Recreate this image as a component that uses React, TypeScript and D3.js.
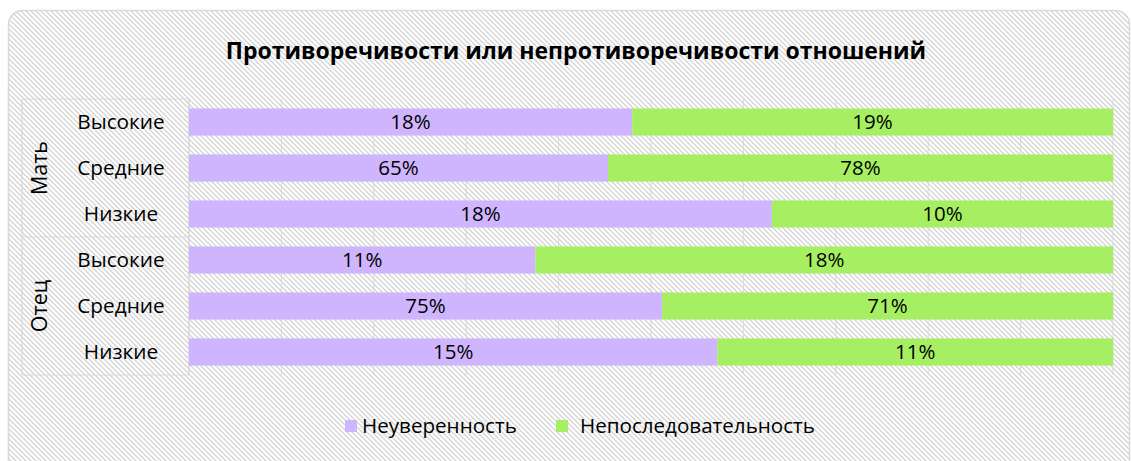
import React from "react";
import * as d3 from "d3";

const groups = ["Мать", "Отец"];
const levels = ["Высокие", "Средние", "Низкие"];
const seriesNames = ["Неуверенность", "Непоследовательность"];
const uncertainty = [17.6, 64.8, 17.6, 10.8, 74.7, 14.7];
const inconsistency = [19.1, 78.1, 10.3, 18.0, 71.2, 11.0];
const colors = ["#CFB5FE", "#A7EF62"];
const xTicks = [0, 10, 20, 30, 40, 50, 60, 70, 80, 90, 100];
const title = "Противоречивости или непротиворечивости отношений";

const W = 1131;
const H = 461;
const FONT = "'Open Sans', 'Noto Sans', sans-serif";

export default function App() {
  const plotLeft = 189;
  const plotRight = 1113;
  const plotTop = 99;
  const plotBottom = 375;
  const axisLeft = 22;

  const rows = groups.flatMap((g) => levels.map((l) => `${g}|${l}`));
  const x = d3.scaleLinear().domain([0, 100]).range([plotLeft, plotRight]);
  const y = d3.scaleBand().domain(rows).range([plotTop, plotBottom]).paddingInner(0.41).paddingOuter(0.205);

  const data = rows.map((r, i) => ({ key: r, a: uncertainty[i], b: inconsistency[i] }));
  const stacked = d3
    .stack<any>()
    .keys(["a", "b"])
    .offset(d3.stackOffsetExpand)(data);

  const groupH = (plotBottom - plotTop) / groups.length;

  return (
    <svg width={W} height={H} style={{ position: "absolute", left: 0, top: 0 }} fontFamily={FONT}>
      <defs>
        <pattern id="hatch" width="5" height="5" patternUnits="userSpaceOnUse">
          <rect width="5" height="5" fill="#ffffff" />
          <path d="M0,0 L5,5 M-1,4 L1,6 M4,-1 L6,1" stroke="#d4d4d4" strokeWidth="1.3" />
        </pattern>
      </defs>
      <rect x={0} y={0} width={W} height={H} fill="#ffffff" />
      <rect x={8.5} y={10.5} width={1121} height={470} rx={14} fill="url(#hatch)" stroke="#d9d9d9" strokeWidth={1.5} />
      <text x={576} y={59} textAnchor="middle" fontSize={23} fontWeight="bold" fill="#000">
        {title}
      </text>

      {/* gridlines */}
      {xTicks.map((t) => (
        <line key={t} x1={x(t)} x2={x(t)} y1={plotTop} y2={plotBottom} stroke="#d9d9d9" strokeWidth={1} />
      ))}

      {/* category axis box */}
      <g stroke="#d9d9d9" strokeWidth={1.2} fill="none">
        <line x1={axisLeft} x2={plotLeft} y1={plotTop} y2={plotTop} />
        <line x1={axisLeft} x2={plotLeft} y1={plotBottom} y2={plotBottom} />
        <line x1={axisLeft} x2={axisLeft} y1={plotTop} y2={plotBottom} />
        <line x1={plotLeft} x2={plotLeft} y1={plotTop} y2={plotBottom} />
        {groups.slice(1).map((g, i) => (
          <line key={g} x1={axisLeft} x2={plotLeft} y1={plotTop + groupH * (i + 1)} y2={plotTop + groupH * (i + 1)} />
        ))}
      </g>

      {/* bars */}
      {stacked.map((s, si) =>
        s.map((d, i) => (
          <rect
            key={`${si}-${i}`}
            x={x(d[0] * 100)}
            width={x(d[1] * 100) - x(d[0] * 100)}
            y={y(rows[i])}
            height={y.bandwidth()}
            fill={colors[si]}
          />
        ))
      )}
      {stacked.map((s, si) =>
        s.map((d, i) => (
          <text
            key={`t${si}-${i}`}
            x={(x(d[0] * 100) + x(d[1] * 100)) / 2}
            y={(y(rows[i]) as number) + y.bandwidth() / 2}
            dy="0.36em"
            textAnchor="middle"
            fontSize={20.5}
            fill="#000"
          >
            {Math.round(si === 0 ? uncertainty[i] : inconsistency[i]) + "%"}
          </text>
        ))
      )}

      {/* category labels */}
      {rows.map((r) => (
        <text
          key={r}
          x={121}
          y={(y(r) as number) + y.bandwidth() / 2}
          dy="0.36em"
          textAnchor="middle"
          fontSize={20.8}
          fill="#000"
        >
          {r.split("|")[1]}
        </text>
      ))}
      {groups.map((g, i) => (
        <text
          key={g}
          transform={`translate(${39},${plotTop + groupH * (i + 0.5)}) rotate(-90)`}
          dy="0.36em"
          textAnchor="middle"
          fontSize={21.5}
          fill="#000"
        >
          {g}
        </text>
      ))}

      {/* legend */}
      {seriesNames.map((n, i) => {
        const lx = i === 0 ? 345 : 556;
        return (
          <g key={n}>
            <rect x={lx} y={420} width={12} height={12} fill={colors[i]} />
            <text x={lx + (i === 0 ? 17 : 24)} y={426} dy="0.36em" fontSize={20.6} fill="#000">
              {n}
            </text>
          </g>
        );
      })}
    </svg>
  );
}
